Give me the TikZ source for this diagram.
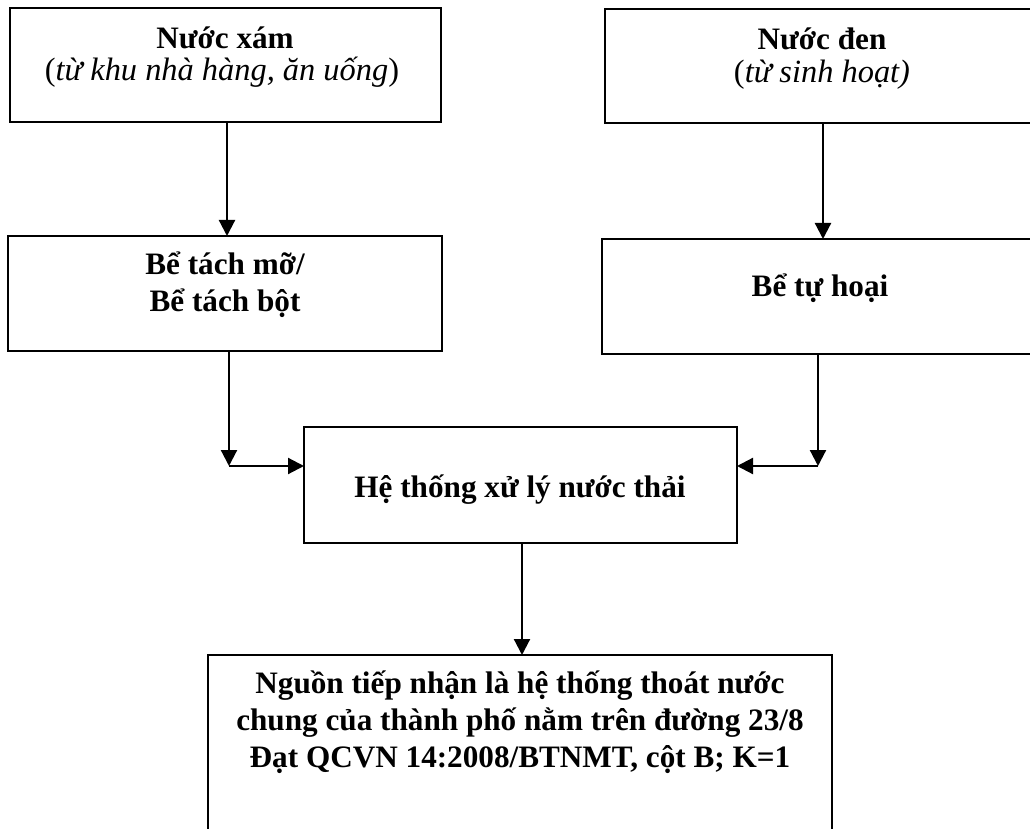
\documentclass[tikz,border=0pt]{standalone}
\usepackage{fontspec}
\setmainfont{Liberation Serif}
\usetikzlibrary{arrows.meta}
\begin{document}
\begin{tikzpicture}[x=0.5pt,y=-0.5pt,
  box/.style={draw=black, line width=1.2pt, inner sep=0pt, outer sep=0pt},
  lbl/.style={anchor=base, inner sep=0pt, font=\fontsize{15.6pt}{18.5pt}\selectfont\bfseries},
  sub/.style={anchor=base, inner sep=0pt, font=\fontsize{16.2pt}{18.5pt}\selectfont},
  arr/.style={draw=black, line width=1.1pt, -{Triangle[length=8pt,width=8pt]}}]
\useasboundingbox[fill=white] (0,0) rectangle (1030,829);
% boxes
\node[box, minimum width=215.5pt, minimum height=57pt] (b1) at (225.5,65) {};
\node[box, minimum width=217.5pt, minimum height=57pt] (b2) at (822.5,66) {};
\node[box, minimum width=217pt, minimum height=57.5pt] (b3) at (225,293.5) {};
\node[box, minimum width=219pt, minimum height=57.5pt] (b4) at (821,296.5) {};
\node[box, minimum width=216.5pt, minimum height=58pt] (b5) at (520.5,485) {};
\node[box, minimum width=312pt, minimum height=97.5pt] (b6) at (520,752.5) {};
% texts
\node[lbl] (t1a) at (225,49) {Nước xám};
\node[sub] (t1b) at (222,81) {(\textit{từ khu nhà hàng, ăn uống})};
\node[lbl] (t2a) at (822,50) {Nước đen};
\node[sub] (t2b) at (822,83) {(\textit{từ sinh hoạt)}};
\node[lbl] (t3a) at (225,275) {Bể tách mỡ/};
\node[lbl] (t3b) at (225,312) {Bể tách bột};
\node[lbl] (t4) at (820,297) {Bể tự hoại};
\node[lbl] (t5) at (520,497) {Hệ thống xử lý nước thải};
\node[lbl] (t6a) at (520,693) {Nguồn tiếp nhận là hệ thống thoát nước};
\node[lbl] (t6b) at (520,730) {chung của thành phố nằm trên đường 23/8};
\node[lbl] (t6c) at (520,767) {Đạt QCVN 14:2008/BTNMT, cột B; K=1};
% junctions
\coordinate (c1) at (229,466);
\coordinate (c2) at (818,466);
\coordinate (a1) at (227,0);
\coordinate (a2) at (823,0);
\coordinate (a3) at (522,0);
% connectors
\draw[arr] (b1.south -| a1) -- (b3.north -| a1);
\draw[arr] (b2.south -| a2) -- (b4.north -| a2);
\draw[arr] (b3.south -| c1) -- (c1);
\draw[arr] (c1) -- (c1 -| b5.west);
\draw[arr] (b4.south -| c2) -- (c2);
\draw[arr] (c2) -- (c2 -| b5.east);
\draw[arr] (b5.south -| a3) -- (b6.north -| a3);
\end{tikzpicture}
\end{document}
